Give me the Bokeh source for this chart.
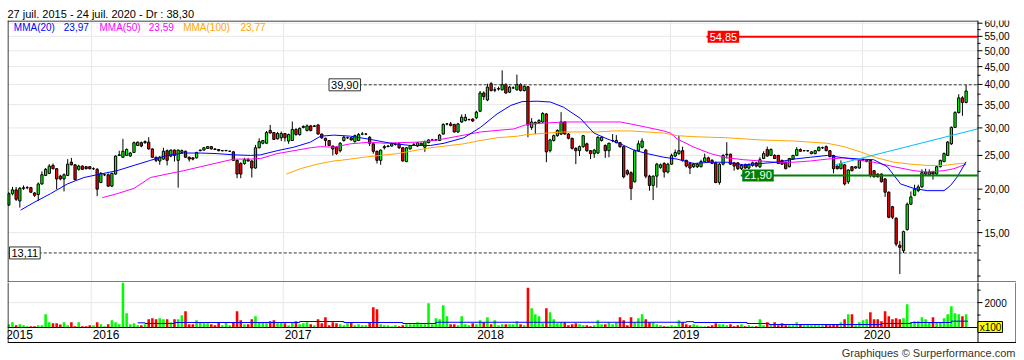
from bokeh.plotting import figure
from bokeh.models import ColumnDataSource, Range1d, FixedTicker, Label, Span
from bokeh.layouts import column
from bokeh.embed import file_html
from bokeh.resources import INLINE
from bokeh.core.properties import value

# ---------------- data (weekly, 27 juil. 2015 -> 24 juil. 2020) ----------------
opens = [18.0,19.4,19.9,18.5,20.1,20.2,20.2,19.5,19.3,20.7,
 21.9,22.2,23.4,22.9,21.8,21.4,21.9,23.9,23.5,22.8,
 23.3,23.2,23.2,22.9,22.8,20.9,22.0,22.0,20.4,22.1,
 25.0,24.7,25.0,24.9,25.5,26.7,27.2,27.2,27.3,26.1,
 24.7,24.1,24.4,25.8,24.9,25.9,24.2,25.5,25.7,24.7,
 24.6,24.6,25.8,25.9,26.2,26.5,26.1,26.0,25.8,25.8,
 25.7,25.6,24.2,23.7,23.7,24.3,24.1,23.0,26.3,27.1,
 27.1,29.5,29.1,27.9,28.1,28.9,27.5,27.6,29.7,28.7,
 30.1,29.5,30.4,30.3,30.6,28.8,28.0,27.6,26.6,26.4,
 25.8,27.6,28.1,28.1,27.4,27.6,28.8,28.8,28.2,27.0,
 25.7,24.2,26.3,26.5,26.6,26.9,27.0,26.3,24.0,26.1,
 26.9,26.6,26.8,26.4,27.2,27.7,27.7,27.6,28.8,30.8,
 30.8,30.7,29.2,31.2,31.5,31.7,31.8,32.1,33.5,37.8,
 36.1,40.2,38.5,38.8,38.6,40.0,38.0,39.1,38.6,40.0,
 38.4,39.4,30.1,30.8,31.1,31.2,32.9,25.8,27.6,28.5,
 28.8,31.2,28.8,28.0,26.2,25.8,26.5,27.0,25.8,25.3,
 25.4,27.6,26.7,25.8,27.6,27.2,27.2,26.5,22.6,22.3,
 21.0,25.8,26.4,25.9,21.8,20.5,21.8,23.1,23.7,22.4,
 23.6,24.9,25.3,25.8,24.2,23.7,23.2,23.2,23.2,24.0,
 24.6,24.2,23.8,20.9,23.6,25.1,25.2,23.8,23.8,22.9,
 23.5,23.0,23.4,23.8,23.2,24.5,26.0,25.0,25.0,25.0,
 24.2,23.9,23.2,24.4,25.0,26.0,25.8,25.8,25.3,25.3,
 25.8,26.3,26.5,25.8,25.0,23.3,22.9,23.5,21.0,23.2,
 23.0,23.0,24.3,24.0,24.2,22.6,22.1,22.1,21.4,19.6,
 17.8,16.5,13.8,13.3,15.3,18.1,19.2,19.8,20.3,22.1,
 22.0,22.4,22.1,23.2,24.0,25.0,27.0,30.1,33.2,36.6,
 35.5]
highs = [19.6,20.3,20.3,20.3,20.5,20.4,20.3,19.6,20.9,22.5,
 23.0,23.6,23.7,23.0,22.0,22.2,24.4,24.6,23.6,23.5,
 23.4,23.3,23.3,23.1,23.0,22.4,22.2,22.2,22.3,25.0,
 25.8,27.9,26.2,25.6,27.4,27.4,27.4,27.6,28.2,26.2,
 24.8,24.9,26.3,26.0,26.0,26.0,26.0,26.0,25.8,24.8,
 24.7,25.6,26.0,26.4,26.6,26.6,26.2,26.1,25.9,25.9,
 25.8,25.7,24.3,23.9,24.6,24.6,24.2,26.8,28.0,27.7,
 29.4,30.6,29.2,29.2,29.3,29.0,28.9,31.3,29.9,30.1,
 30.5,30.7,30.6,30.6,30.7,28.9,28.1,27.7,26.7,26.5,
 27.3,28.5,28.3,28.2,28.7,29.0,29.2,29.0,28.4,27.1,
 25.8,26.0,26.8,26.8,27.2,27.1,27.1,26.4,26.4,26.8,
 27.1,27.3,27.2,27.6,27.8,27.9,27.9,28.8,30.9,31.0,
 31.2,30.8,31.0,32.8,32.9,31.9,32.0,33.6,38.3,38.2,
 40.2,40.6,39.3,39.4,43.9,40.3,39.6,39.5,42.7,40.3,
 39.8,39.6,32.0,31.3,31.8,33.3,33.1,27.9,28.7,29.7,
 33.3,31.4,29.0,28.1,26.4,26.7,28.6,27.2,25.9,26.1,
 28.4,28.4,26.9,27.2,28.8,28.6,27.3,26.6,22.8,22.5,
 26.0,27.6,28.0,26.1,22.0,21.9,23.8,23.7,23.9,23.8,
 25.3,26.0,28.5,26.5,24.3,23.9,23.8,23.8,24.3,25.3,
 24.8,24.4,24.0,23.8,25.2,27.3,25.3,23.9,23.9,23.6,
 23.7,23.7,24.0,23.9,24.7,25.7,26.5,26.2,25.2,25.1,
 24.3,24.0,24.6,25.1,26.4,26.2,25.9,25.9,25.7,25.9,
 26.5,26.5,26.7,25.9,25.1,23.4,24.2,23.6,22.8,23.3,
 23.3,24.3,24.5,24.3,24.3,22.7,22.2,22.2,21.5,19.7,
 17.9,16.6,14.2,15.2,18.3,19.7,20.6,20.6,22.8,22.9,
 22.8,22.6,23.3,24.3,25.5,27.5,30.3,33.5,37.5,37.0,
 39.9]
lows = [17.9,19.2,18.5,17.7,19.9,20.0,19.5,19.0,18.5,20.6,
 21.8,22.1,22.8,20.0,21.2,19.7,21.8,23.4,21.2,22.6,
 22.7,22.8,22.8,22.7,19.1,20.8,21.8,20.3,20.3,22.0,
 24.9,24.6,24.9,24.8,25.4,26.6,26.4,27.0,26.0,24.6,
 23.9,23.5,24.3,23.4,24.7,24.0,20.2,25.3,24.6,24.0,
 24.2,24.5,25.7,25.8,26.1,26.0,25.9,25.7,25.7,25.7,
 25.6,24.1,21.5,21.5,23.5,24.0,21.6,22.9,26.2,26.9,
 27.0,28.9,27.7,27.8,27.5,27.4,27.0,27.5,28.5,28.5,
 29.9,29.3,29.3,30.2,28.7,27.9,26.6,26.6,25.0,25.1,
 25.5,27.4,27.9,27.6,27.2,27.5,28.6,28.6,26.6,25.3,
 23.7,23.5,26.0,26.4,26.5,26.7,26.1,24.0,23.9,26.0,
 26.7,26.5,26.7,25.6,27.1,27.5,27.5,27.5,28.7,30.5,
 30.3,29.1,29.0,31.0,31.3,31.5,31.2,31.8,33.3,36.1,
 35.8,38.2,38.0,38.4,38.4,37.6,37.8,38.8,38.4,38.2,
 38.2,28.2,29.6,28.8,30.9,31.0,23.9,25.5,27.4,28.3,
 28.6,28.7,27.8,26.0,23.6,24.9,26.3,25.6,24.4,24.6,
 25.2,27.4,24.6,24.7,27.3,27.1,26.3,21.5,21.9,18.6,
 20.9,25.6,26.2,21.5,19.8,18.6,20.2,22.9,21.6,22.2,
 23.5,24.7,25.1,24.0,23.1,22.1,23.0,23.0,23.1,23.9,
 23.9,23.6,20.8,20.6,23.4,24.5,23.5,22.6,22.7,22.7,
 22.9,22.8,23.2,23.1,23.0,24.4,24.8,24.9,24.4,23.6,
 23.5,22.8,23.1,24.3,24.9,25.6,25.7,25.6,25.2,25.2,
 25.7,26.1,25.7,24.7,22.2,22.8,22.8,20.5,20.7,22.5,
 22.9,22.9,24.1,23.9,21.6,21.6,21.6,20.9,19.0,16.5,
 16.4,13.7,11.4,13.1,15.2,18.0,19.1,19.6,20.2,21.9,
 21.8,21.3,22.0,23.1,23.9,24.9,26.8,30.0,33.0,32.5,
 35.3]
closes = [19.4,19.9,18.7,20.1,20.2,20.2,19.6,19.2,20.7,22.0,
 22.8,23.3,22.9,21.4,21.4,22.0,23.6,23.5,21.3,23.3,
 22.8,22.9,22.9,22.9,20.0,22.2,22.0,20.4,22.2,24.9,
 25.1,25.7,26.0,25.4,27.2,27.3,26.6,27.4,26.1,24.7,
 24.2,24.7,25.7,24.2,25.9,25.0,25.9,25.8,24.7,24.4,
 24.4,25.5,25.9,26.3,26.5,26.1,26.0,25.8,25.8,25.85,
 25.7,24.2,22.1,22.1,24.3,24.1,23.0,26.3,27.4,27.6,
 29.1,29.0,27.8,28.9,28.9,28.1,28.7,29.7,28.7,29.9,
 30.3,30.4,29.5,30.4,28.8,28.1,27.6,26.7,26.1,25.3,
 27.1,28.2,28.1,27.7,28.5,28.7,28.8,28.8,27.1,25.7,
 24.2,25.9,26.5,26.6,27.0,26.9,26.3,24.1,26.3,26.7,
 26.9,27.2,27.1,27.4,27.7,27.7,27.7,28.6,30.7,30.8,
 30.5,29.2,30.8,32.2,32.2,31.7,31.4,33.3,37.8,36.9,
 39.3,38.4,38.6,38.9,40.0,37.8,39.3,39.1,40.0,38.4,
 39.5,30.6,31.2,31.1,31.5,33.0,25.6,27.7,28.5,29.5,
 31.2,28.8,28.0,26.2,25.8,26.5,28.5,25.8,25.3,25.9,
 28.2,28.2,25.8,27.1,27.6,27.6,26.5,21.7,22.1,20.1,
 25.8,27.0,27.5,21.8,20.5,21.8,23.6,23.5,22.4,23.6,
 25.0,25.5,25.8,24.2,23.3,23.0,23.6,23.6,24.0,24.6,
 24.0,23.7,20.9,23.6,25.0,25.2,23.6,23.3,22.9,23.4,
 23.0,23.5,23.8,23.3,24.3,25.3,24.9,26.0,24.5,23.7,
 23.6,22.9,24.5,25.0,26.0,25.7,25.8,25.8,25.6,25.8,
 26.4,26.3,25.8,24.8,22.9,22.9,23.7,20.7,22.7,22.6,
 23.2,24.2,24.3,24.2,21.9,21.7,21.7,21.0,19.6,16.6,
 16.6,13.9,13.6,15.1,18.1,19.0,20.0,20.3,22.3,22.4,
 22.4,22.1,23.2,24.2,25.3,27.3,30.1,33.2,36.6,35.5,
 38.3]
# volume, x100 shares
volumes = [268,429,188,268,188,107,107,107,188,188,
 1072,429,348,348,241,429,188,429,107,429,
 107,107,188,188,429,268,107,268,590,429,
 268,3670,1152,268,348,188,188,268,670,750,
 670,750,670,670,429,670,670,992,1313,268,
 268,590,429,348,348,268,188,429,188,429,
 188,429,1313,590,268,268,670,911,429,429,
 348,509,590,348,429,348,188,429,509,268,
 348,429,268,188,670,348,831,188,429,348,
 268,188,348,429,188,268,188,188,429,1635,
 1474,268,188,188,107,188,107,188,268,268,
 268,429,268,268,1956,268,750,670,1796,911,
 268,268,188,911,268,188,348,268,590,429,
 831,268,590,188,268,
 268,268,268,509,268,188,3189,1554,1072,911,
 348,1554,1233,670,348,429,429,188,268,348,
 268,188,188,107,188,590,268,268,429,268,
 429,831,590,188,831,429,750,1072,670,429,
 429,268,188,107,107,188,107,590,429,268,
 188,268,188,107,107,107,188,348,268,268,
 188,268,107,188,268,107,188,107,107,670,
 188,429,268,429,188,348,188,188,188,429,
 268,188,268,188,268,188,188,268,188,268,
 268,429,670,1072,1072,188,429,590,670,1233,
 670,670,509,1313,911,670,750,670,750,1876,
 429,509,509,831,670,429,831,429,429,750,
 1072,1715,1152,1072,911,1072]

# moving averages (week index, value)
ma20_x = [3.2,6.8,11.3,15.9,20.4,24.9,29.4,34.0,38.5,43.0,47.5,52.1,56.6,61.1,65.6,68.4,72.9,77.4,81.9,84.7,88.3,
          92.8,98.2,103.7,109.1,114.5,118.2,123.6,128.1,132.6,136.3,139.4,143.5,147.1,150.7,155.3,158.9,162.5,166.1,169.8,173.4,177.9,
          181.5,186.1,190.6,195.1,199.6,204.2,208.7,213.2,217.7,222.3,226.8,231.3,234.9,238.6,242.2,245.8,249.4,254.0,255.8,257.6,260.0]
ma20_y = [17.4,18.3,19.4,20.7,21.6,22.1,22.6,23.4,24.2,25.0,25.4,25.4,25.3,25.1,25.0,25.1,25.8,26.4,27.3,28.4,28.6,
          28.4,27.8,27.1,26.7,26.7,27.1,28.1,30.1,32.9,34.8,35.7,35.8,35.6,34.4,31.9,29.0,27.9,27.0,25.9,25.3,24.7,
          24.4,23.7,23.9,23.9,23.5,23.7,23.9,24.4,24.7,25.0,24.6,24.4,24.3,23.2,20.7,20.1,19.8,19.8,20.5,21.7,23.97]
ma50_x = [25.4,29.4,34.0,38.5,43.0,47.5,52.1,56.6,61.1,65.6,68.4,72.9,77.4,81.9,84.7,88.3,
          92.8,98.2,101.9,105.5,110.9,114.5,118.2,123.6,128.1,132.6,137.2,139.9,141.7,146.2,150.7,155.3,159.8,166.1,168.8,173.4,177.9,179.7,
          181.5,186.1,190.6,195.1,199.6,204.2,208.7,213.2,217.7,222.3,226.8,231.3,234.9,240.4,245.8,249.4,254.0,256.7,260.0]
ma50_y = [18.9,19.4,20.1,21.6,22.1,22.6,23.2,23.8,24.4,24.4,24.5,25.3,25.8,26.3,26.5,26.4,
          27.0,27.3,27.1,27.2,27.3,27.5,27.9,28.6,29.2,29.5,29.8,30.5,30.8,31.0,31.2,31.2,31.2,31.2,30.8,30.1,29.4,29.0,
          27.9,26.4,25.3,24.6,24.3,24.1,23.9,23.9,24.1,24.4,24.6,24.2,23.9,23.2,22.6,22.4,22.6,22.9,23.59]
ma100_x = [75.4,79.2,83.8,88.3,90.1,
           96.4,105.5,114.5,123.6,128.1,132.6,138.1,140.8,146.2,150.7,155.3,159.8,164.3,168.8,173.4,177.9,
           181.5,186.1,190.6,195.1,199.6,204.2,208.7,213.2,217.7,222.3,226.8,231.3,235.8,240.4,244.9,249.4,254.0,256.7,260.0]
ma100_y = [22.1,22.9,23.6,24.1,24.2,
           24.7,25.3,26.3,27.0,27.6,28.1,28.4,28.7,29.0,29.2,29.2,29.2,29.4,29.4,29.2,29.0,
           28.5,28.3,28.2,28.1,27.9,27.7,27.6,27.5,27.3,27.1,26.5,25.6,24.6,23.9,23.6,23.4,23.4,23.6,23.77]
# volume moving average (step)
vma_x = [35, 37, 45, 79, 91, 107, 116, 184, 186, 200.5, 206.5, 237, 245, 256, 260.5]
vma_y = [375, 322, 402, 482, 402, 322, 420, 470, 402, 322, 241, 322, 402, 509, 509]
# trend line (start / end)
trend_x = [224.5, 263.09]
trend_y = [23.5, 29.8]
# levels
resistance = 54.85
support = 21.90
high_52w = 39.90
low_52w = 13.11
header = "27 juil. 2015 - 24 juil. 2020 - Dr : 38,30"
credit = "Graphiques \u00a9 Surperformance.com"
year_labels = ["2015", "2016", "2017", "2018", "2019", "2020"]
year_label_x = [2.91, 26.40, 78.55, 130.83, 183.92, 235.80]
year_bounds = [22.38, 74.53, 126.67, 179.71, 231.78]
price_ticks = [15, 20, 25, 30, 35, 40, 45, 50, 55, 60]
price_minor = [11.25, 12.5, 13.75, 16.25, 17.5, 18.75, 22.5, 27.5, 32.5, 37.5, 42.5, 47.5, 52.5, 57.5]
vol_ticks = [2000]
vol_minor = [1000, 3000]

def fr(v):
    return f"{v:.2f}".replace(".", ",")

GREEN = "#00ff00"
RED = "#ff0000"
GRID = "#e8e8e8"
FONT = "Liberation Sans"
PXU = 3.682            # pixels per week
HALF = 0.5 / PXU       # half a pixel in x units

N = len(closes)
idx = list(range(N))
colors = [GREEN if c >= o else RED for o, c in zip(opens, closes)]
src = ColumnDataSource(dict(
    x=idx, o=opens, h=highs, l=lows, c=closes,
    top=[max(o, c) for o, c in zip(opens, closes)],
    bot=[min(o, c) for o, c in zip(opens, closes)],
    color=colors, vol=volumes))

X0 = -0.35
X1 = X0 + 970 / PXU          # plot-area right edge (axis line)
VX1 = X0 + 1009 / PXU        # outer box right edge
xr = Range1d(X0, VX1)

# ---------------- price panel ----------------
YB, YT = 10.78, 61.08
yk = 2.718281828 ** (0.5 / 151.0)   # half a pixel, as a factor on the log axis
p = figure(width=1016, height=282, x_range=xr, y_range=Range1d(YB, YT),
           y_axis_type="log", y_axis_location=None, x_axis_location=None,
           output_backend="svg", toolbar_location=None,
           min_border_left=7, min_border_right=0, min_border_top=20, min_border_bottom=0)
p.outline_line_color = None
p.title.text = header
p.title.align = "left"
p.title.text_font = FONT
p.title.text_font_size = "11px"
p.title.text_font_style = "normal"
p.title.text_color = "black"
p.title.standoff = 2
p.title.offset = 0
p.xgrid.ticker = FixedTicker(ticks=year_bounds)
p.xgrid.grid_line_color = GRID
p.ygrid.visible = False
p.segment(x0=[X0] * len(price_ticks), y0=price_ticks, x1=[X1] * len(price_ticks), y1=price_ticks,
          line_color=GRID, line_width=1)

p.segment(x0="x", y0="l", x1="x", y1="h", source=src, line_color="black", line_width=1)
p.vbar(x="x", top="top", bottom="bot", width=0.62, fill_color="color",
       line_color="black", line_width=1, source=src)

p.line(ma100_x, ma100_y, line_color="#ffa500", line_width=1)
p.line(ma50_x, ma50_y, line_color="#ff00ff", line_width=1)
p.line(ma20_x, ma20_y, line_color="#0000ff", line_width=1)
p.line(trend_x, trend_y, line_color="#00bfff", line_width=1)

p.line([86.9, X1], [high_52w, high_52w], line_color="#333333", line_dash="3 2", line_width=1)
p.line([0.0, X1], [low_52w, low_52w], line_color="#333333", line_dash="3 2", line_width=1)
p.line([189.5, X1], [resistance, resistance], line_color=RED, line_width=2)
p.line([198.8, X1], [support, support], line_color="#008000", line_width=2)

# frame lines and hand-drawn right axis
p.segment(x0=[X0, X0 + HALF, X1 + HALF, X0], y0=[YT / yk, YB, YB, YB * yk],
          x1=[X1 + HALF, X0 + HALF, X1 + HALF, VX1], y1=[YT / yk, YT, YT, YB * yk],
          line_color="black", line_width=1)
p.segment(x0=[X1] * len(price_ticks), y0=price_ticks, x1=[X1 + 5 / PXU] * len(price_ticks), y1=price_ticks,
          line_color="black", line_width=1)
p.segment(x0=[X1] * len(price_minor), y0=price_minor, x1=[X1 + 3 / PXU] * len(price_minor), y1=price_minor,
          line_color="black", line_width=1)
p.text(x=[X1 + 7 / PXU] * len(price_ticks), y=price_ticks, text=[fr(t) for t in price_ticks],
       text_align="left", text_baseline="middle", text_font=value(FONT),
       text_font_size="10px", text_color="black")

def tag(x, y, text, bg, fg, border):
    p.add_layout(Label(x=x, y=y, text=text, text_align="left", text_baseline="middle",
                       text_font=FONT, text_font_size="11px", text_color=fg,
                       background_fill_color=bg, border_line_color=border, padding=2))

tag(86.97, high_52w, fr(high_52w), "white", "black", "#333333")
tag(0.19, low_52w, fr(low_52w), "white", "black", "#333333")
tag(189.8, resistance, fr(resistance), RED, "white", None)
tag(199.2, support, fr(support), "#008000", "white", None)

legend_items = [(1.36, "MMA(20)", "#0000ff"), (14.94, fr(ma20_y[-1]), "#0000ff"),
                (24.64, "MMA(50)", "#ff00ff"), (38.02, fr(ma50_y[-1]), "#ff00ff"),
                (47.37, "MMA(100)", "#ffa500"), (62.93, fr(ma100_y[-1]), "#ffa500")]
for lx, lt, lc in legend_items:
    p.add_layout(Label(x=lx, y=58.4, text=lt, text_align="left", text_baseline="middle",
                       text_font=FONT, text_font_size="10px", text_color=lc))

# ---------------- volume panel (frame covers the whole lower box) ----------------
VY0, VY1 = -2650, 3614       # frame bottom / top in volume units
BOX = -1205                  # bottom line of the boxed area
v = figure(width=1016, height=78, x_range=xr, y_range=Range1d(VY0, VY1),
           y_axis_location=None, x_axis_location=None,
           output_backend="svg", toolbar_location=None,
           min_border_left=7, min_border_right=0, min_border_top=0, min_border_bottom=0)
v.outline_line_color = None
v.xgrid.visible = False
v.ygrid.visible = False

v.segment(x0=year_bounds, y0=0, x1=year_bounds, y1=VY1, line_color=GRID, line_width=1)
v.segment(x0=[X0], y0=vol_ticks, x1=[X1], y1=vol_ticks, line_color=GRID, line_width=1)
v.vbar(x="x", top="vol", bottom=0, width=0.7, fill_color="color", line_color=None, source=src)
v.step(vma_x, vma_y, mode="after", line_color="#0000ff", line_width=1)

v.segment(x0=[X0], y0=[0], x1=[X1], y1=[0], line_color="black", line_width=1)
v.add_layout(Span(location=BOX, dimension="width", line_color="black", line_width=1))
v.segment(x0=[X0 + HALF, X1 + HALF, VX1 - HALF], y0=[BOX, BOX, BOX],
          x1=[X0 + HALF, X1 + HALF, VX1 - HALF], y1=[VY1, VY1, VY1],
          line_color="black", line_width=1)
v.segment(x0=[X1] * len(vol_ticks), y0=vol_ticks, x1=[X1 + 5 / PXU] * len(vol_ticks), y1=vol_ticks,
          line_color="black", line_width=1)
v.segment(x0=[X1] * len(vol_minor), y0=vol_minor, x1=[X1 + 3 / PXU] * len(vol_minor), y1=vol_minor,
          line_color="black", line_width=1)
v.text(x=[X1 + 7 / PXU] * len(vol_ticks), y=vol_ticks, text=[str(t) for t in vol_ticks],
       text_align="left", text_baseline="middle", text_font=value(FONT),
       text_font_size="10px", text_color="black")
v.quad(left=[X1 + HALF], right=[X1 + 25 / PXU], bottom=[-401], top=[482],
       fill_color="#ffff00", line_color="black", line_width=1)
v.text(x=[X1 + 13 / PXU], y=[40], text=["x100"], text_align="center", text_baseline="middle",
       text_font=value(FONT), text_font_size="10px", text_color="black")

v.text(x=year_label_x, y=-562, text=year_labels, text_align="center", text_baseline="middle",
       text_font=value(FONT), text_font_size="12px", text_color="black")
v.text(x=[X0 + 1008 / PXU], y=[-2008], text=[credit], text_align="right", text_baseline="middle",
       text_font=value(FONT), text_font_size="11px", text_color="#333333")

layout = column(p, v, spacing=0)
open("out.html", "w").write(file_html(layout, INLINE))
